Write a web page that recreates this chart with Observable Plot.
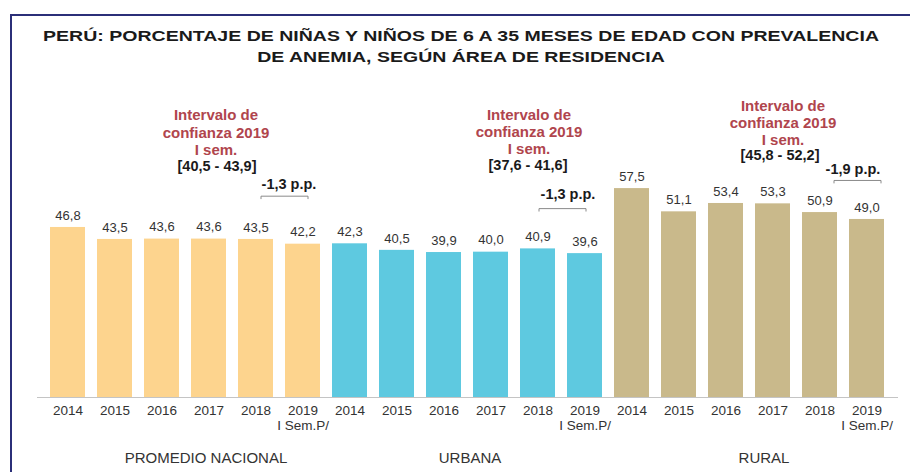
<!DOCTYPE html>
<html>
<head>
<meta charset="utf-8">
<script src="https://cdn.jsdelivr.net/npm/d3@7"></script>
<script src="https://cdn.jsdelivr.net/npm/@observablehq/plot@0.6"></script>
<style>
  body { margin: 0; background: #fff; }
  #wrap { position: relative; width: 910px; height: 472px; overflow: hidden; background: #fff; font-family: "Liberation Sans", Arial, sans-serif; }
  #frame { position: absolute; left: 10px; top: 14px; right: -10px; bottom: -10px; border-left: 2px solid #2b2f78; border-top: 2px solid #2b2f78; }
  #title { position: absolute; left: 12px; width: 898px; top: 25px; text-align: center; font-weight: bold; font-size: 15.5px; line-height: 21px; color: #1a1a1a; transform: scaleX(1.26); transform-origin: 449px 0; }
  #chart { position: absolute; left: 0; top: 80px; }
</style>
</head>
<body>
<div id="wrap">
  <div id="frame"></div>
  <div id="title">PERÚ: PORCENTAJE DE NIÑAS Y NIÑOS DE 6 A 35 MESES DE EDAD CON PREVALENCIA<br>DE ANEMIA, SEGÚN ÁREA DE RESIDENCIA</div>
  <div id="chart"></div>
</div>
<script>
const categories = ["PROMEDIO NACIONAL", "URBANA", "RURAL"];
const years = ["2014", "2015", "2016", "2017", "2018", "2019"];
const yearLabels = ["2014", "2015", "2016", "2017", "2018", "2019\nI Sem.P/"];
const promedioNacional = [46.8, 43.5, 43.6, 43.6, 43.5, 42.2];
const urbana = [42.3, 40.5, 39.9, 40.0, 40.9, 39.6];
const rural = [57.5, 51.1, 53.4, 53.3, 50.9, 49.0];
const intervals = ["[40,5 - 43,9]", "[37,6 - 41,6]", "[45,8 - 52,2]"];
const changes = ["-1,3 p.p.", "-1,3 p.p.", "-1,9 p.p."];
const annotationTitle = "Intervalo de\nconfianza 2019\nI sem.";
const colors = ["#fdd48e", "#5ec9e0", "#c9b98b"];

const series = [promedioNacional, urbana, rural];
const rows = [];
categories.forEach((g, gi) => {
  years.forEach((y, yi) => {
    rows.push({group: g, year: y, label: yearLabels[yi], key: g + "|" + y, value: series[gi][yi]});
  });
});
const keys = rows.map(d => d.key);
const fmt = v => d3.format(".1f")(v).replace(".", ",");

// per-group layout offsets (pixels) for annotations
const layout = [
  {gdx: 44, tx: -87, ty: -112, ix: -86, iy: -78, cx: -14, cy: -60, by: -48, bdx: 5},
  {gdx: 26, tx: -56, ty: -122, ix: -57, iy: -88, cx: -17, cy: -59, by: -45, bdx: 1},
  {gdx: 38, tx: -84, ty: -97, ix: -87, iy: -64, cx: -14, cy: -50, by: -39, bdx: 14}
];

const annotMarks = [];
categories.forEach((g, gi) => {
  const L = layout[gi];
  const a = rows.find(d => d.key === g + "|2019");
  const b = rows.find(d => d.key === g + "|2018");
  const k16 = g + "|2016";
  annotMarks.push(
    Plot.text([g], {x: () => k16, y: () => 0, text: d => d, dx: L.gdx, dy: 61, fontSize: 15, fill: "#333"}),
    Plot.text([annotationTitle], {x: () => a.key, y: () => a.value, text: d => d, dx: L.tx, dy: L.ty, fontSize: 15, fontWeight: "bold", fill: "#b0454d", lineHeight: 1.15}),
    Plot.text([intervals[gi]], {x: () => a.key, y: () => a.value, text: d => d, dx: L.ix, dy: L.iy, fontSize: 14.5, fontWeight: "bold", fill: "#1a1a1a"}),
    Plot.text([changes[gi]], {x: () => a.key, y: () => a.value, text: d => d, dx: L.cx, dy: L.cy, fontSize: 14.5, fontWeight: "bold", fill: "#1a1a1a"}),
    Plot.link([0], {x1: () => b.key, x2: () => a.key, y1: () => a.value, y2: () => a.value, dx: L.bdx, dy: L.by, stroke: "#8a8a8a", strokeWidth: 1}),
    Plot.link([b.key, a.key], {x1: d => d, x2: d => d, y1: () => a.value, y2: () => a.value - 0.8, dx: L.bdx, dy: L.by, stroke: "#8a8a8a", strokeWidth: 1})
  );
});

const chart = Plot.plot({
  width: 910,
  height: 392,
  marginTop: 99,
  marginBottom: 75,
  marginLeft: 37,
  marginRight: 12,
  style: {fontFamily: "'Liberation Sans', Arial, sans-serif", background: "transparent", overflow: "visible"},
  x: {type: "band", domain: keys, paddingInner: 0.25, paddingOuter: 0.125, axis: null},
  y: {domain: [0, 60], axis: null},
  color: {domain: categories, range: colors},
  marks: [
    Plot.barY(rows, {x: "key", y: "value", fill: "group"}),
    Plot.ruleY([0], {stroke: "#c4c4c4", strokeWidth: 1}),
    Plot.text(rows, {x: "key", y: "value", text: d => fmt(d.value), dy: -12, fontSize: 13, fill: "#333"}),
    Plot.text(rows, {x: "key", y: () => 0, text: "label", lineAnchor: "top", dy: 8, fontSize: 13.5, fill: "#333", lineHeight: 1.04}),
    ...annotMarks
  ]
});
document.getElementById("chart").appendChild(chart);
</script>
</body>
</html>
